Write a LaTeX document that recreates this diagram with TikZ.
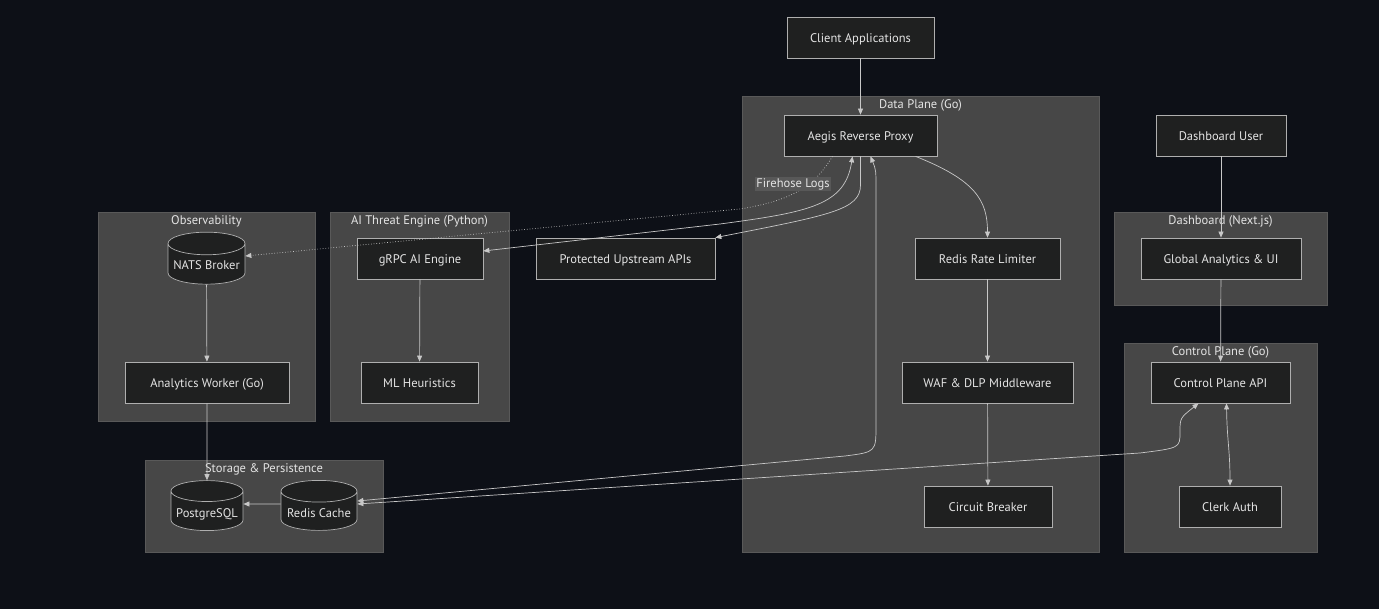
\documentclass[tikz,border=0pt]{standalone}
\usepackage{fontspec}
\setmainfont{PT Sans}
\usetikzlibrary{arrows.meta,shapes.geometric}
\definecolor{bgc}{RGB}{13,16,23}
\definecolor{grpfill}{RGB}{71,71,71}
\definecolor{boxfill}{RGB}{31,32,32}
\definecolor{boxline}{RGB}{175,175,175}
\definecolor{txt}{RGB}{228,228,228}
\definecolor{wire}{RGB}{200,200,200}
\definecolor{lblfill}{RGB}{88,88,88}
\begin{document}
\begin{tikzpicture}[x=1pt,y=-1pt,
  font=\fontsize{12.5}{14}\selectfont,
  group/.style={fill=grpfill,draw=grpfill!90!white,inner sep=0pt},
  grouptitle/.style={text=txt,anchor=north,inner sep=0pt,yshift=-4pt},
  box/.style={draw=boxline,fill=boxfill,text=txt,line width=0.7pt,inner sep=0pt,minimum height=41,text height=10pt,text depth=0pt},
  db/.style={cylinder,shape border rotate=90,aspect=0.34,draw=boxline,fill=boxfill,text=txt,line width=0.7pt,inner sep=0pt,text height=12pt,text depth=0pt},
  wire/.style={draw=wire,line width=0.7pt,-{Triangle[length=6pt,width=5pt]}},
  wire2/.style={draw=wire,line width=0.7pt,{Triangle[length=6pt,width=5pt]}-{Triangle[length=6pt,width=5pt]}}]
  \useasboundingbox (0,0) rectangle (1379,609);
  \fill[bgc] (0,0) rectangle (1379,609);
  % subgraphs
  \node[group,minimum width=357,minimum height=456] (dataplane) at (920.5,324) {};
  \node[group,minimum width=213,minimum height=93] (dash) at (1220.5,258.5) {};
  \node[group,minimum width=193,minimum height=209] (ctrlplane) at (1220.5,447.5) {};
  \node[group,minimum width=217,minimum height=209] (obs) at (206.5,316.5) {};
  \node[group,minimum width=179,minimum height=209] (aieng) at (419.5,316.5) {};
  \node[group,minimum width=238,minimum height=92] (store) at (264,506) {};
  \node[grouptitle] (dataplaneT) at (dataplane.north) {Data Plane (Go)};
  \node[grouptitle] (dashT) at (dash.north) {Dashboard (Next.js)};
  \node[grouptitle] (ctrlplaneT) at (ctrlplane.north) {Control Plane (Go)};
  \node[grouptitle] (obsT) at (obs.north) {Observability};
  \node[grouptitle] (aiengT) at (aieng.north) {AI Threat Engine (Python)};
  \node[grouptitle] (storeT) at (store.north) {Storage \& Persistence};
  % nodes
  \node[box,minimum width=147] (client) at (860.5,37.5) {Client Applications};
  \node[box,minimum width=153] (aegis) at (860.5,135.5) {Aegis Reverse Proxy};
  \node[box,minimum width=145] (ratelim) at (987.5,258.5) {Redis Rate Limiter};
  \node[box,minimum width=171] (waf) at (987.5,382.5) {WAF \& DLP Middleware};
  \node[box,minimum width=128] (breaker) at (988,506.5) {Circuit Breaker};
  \node[box,minimum width=130] (dashuser) at (1221,135.5) {Dashboard User};
  \node[box,minimum width=160] (analyticsui) at (1221,258.5) {Global Analytics \& UI};
  \node[box,minimum width=139] (cpapi) at (1220.5,382.5) {Control Plane API};
  \node[box,minimum width=102] (clerk) at (1230,506.5) {Clerk Auth};
  \node[box,minimum width=164] (worker) at (207,382.5) {Analytics Worker (Go)};
  \node[box,minimum width=126] (grpc) at (420,258.5) {gRPC AI Engine};
  \node[box,minimum width=117] (mlheur) at (419.5,382.5) {ML Heuristics};
  \node[box,minimum width=179] (upstream) at (625.5,258.5) {Protected Upstream APIs};
  \node[db,minimum width=77,minimum height=52] (nats) at (206.5,264) {NATS Broker};
  \node[db,minimum width=72,minimum height=50] (pgsql) at (207,511) {PostgreSQL};
  \node[db,minimum width=76,minimum height=50] (rcache) at (319,511) {Redis Cache};
  % edges
  \draw[wire] (client) -- (aegis);
  \draw[wire] ([xshift=55]aegis.south) .. controls (975,180) and (987.5,200) .. (ratelim.north);
  \draw[wire] (ratelim) -- (waf);
  \draw[wire] (waf) -- (breaker);
  \draw[wire2] ([xshift=-8]aegis.south) .. controls (845,205) and (810,212) .. (720,224) -- ([yshift=7.5]grpc.east);
  \draw[wire] (aegis.south) -- (860.5,185) .. controls (860.5,210) and (830,215) .. (upstream.north east);
  \draw[wire2] ([yshift=10]rcache.east) -- (845,456) .. controls (876,452) .. (876,425) -- (876,190) .. controls (876,170) .. ([xshift=10]aegis.south);
  \draw[wire2] ([yshift=7]rcache.east) -- (1140,453) .. controls (1180,448) .. (1180,432) .. controls (1180,418) .. ([xshift=-22]cpapi.south);
  \draw[wire2] ([xshift=6]cpapi.south) .. controls (1227,440) and (1230,450) .. (clerk.north);
  \draw[wire] (dashuser) -- (analyticsui);
  \draw[wire] (analyticsui) -- (cpapi);
  \draw[wire] (nats) -- (worker);
  \draw[wire] (worker) -- (pgsql.north);
  \draw[wire] ([yshift=7]rcache.west) -- ([yshift=7]pgsql.east);
  \draw[wire] (grpc) -- (mlheur);
  \draw[wire,dotted] ([xshift=-28]aegis.south) .. controls (815,185) and (795,200) .. (740,209) -- ([yshift=8]nats.east);
  \node[fill=lblfill,text=txt,inner sep=1.5pt] (firehose) at (793,184) {Firehose Logs};
\end{tikzpicture}
\end{document}
